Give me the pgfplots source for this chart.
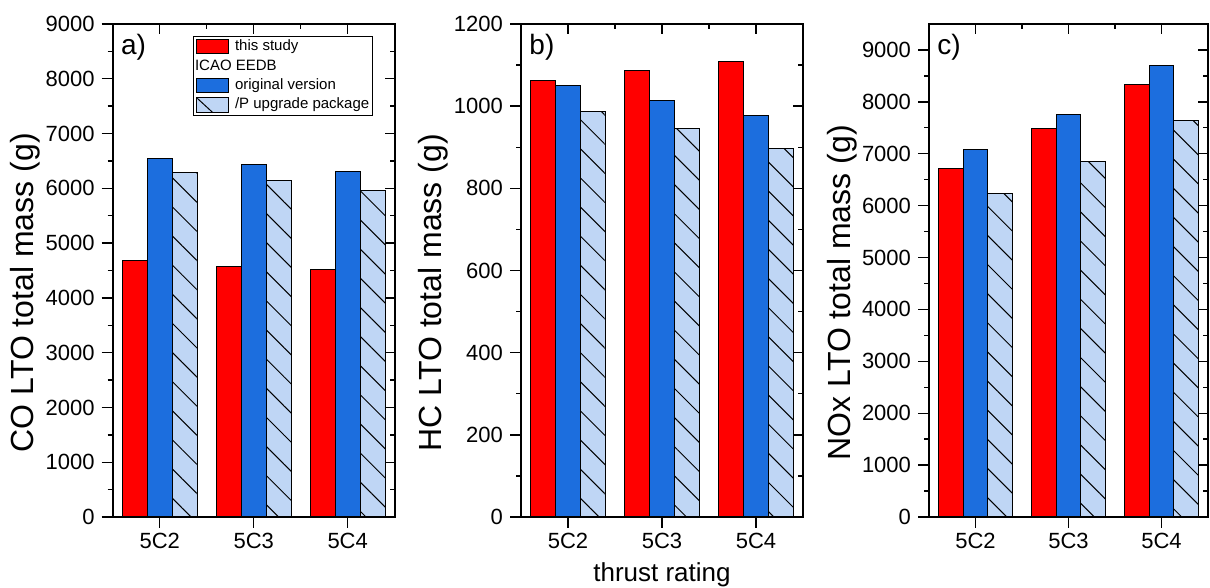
\documentclass[border=0pt]{standalone}
\usepackage{fontspec}
\setmainfont{Liberation Sans}
\usepackage{pgfplots}
\pgfplotsset{compat=1.18}
\usetikzlibrary{patterns.meta}
\definecolor{cred}{RGB}{255,0,0}
\definecolor{cblue}{RGB}{28,110,222}
\definecolor{clight}{RGB}{191,214,245}

\tikzset{plab/.style={anchor=west, font=\fontsize{14}{16}\selectfont}}
\pgfplotsset{
 base/.style={scale only axis, height=246.5pt, xmin=-0.5, xmax=2.5, ymin=0,
   anchor=south west, axis line style={line width=0.9pt},
   every tick/.style={black, line width=0.7pt},
   /pgf/number format/assume math mode=true, /pgf/number format/1000 sep={},
   clip=false},
 mainax/.style={base, xtick={0,1,2}, xticklabels={5C2,5C3,5C4},
   xtick pos=bottom, ytick pos=left, tick align=outside,
   major tick length=5.5pt, minor tick length=2.5pt, minor y tick num=1,
   ticklabel style={font=\fontsize{11}{12}\selectfont},
   xticklabel style={yshift=1pt},
   ylabel style={at={(axis description cs:-0.31,0.455)}, anchor=center, font=\fontsize{16}{18}\selectfont},
   ybar, bar width=0.267},
 overax/.style={base, xtick={0,1,2}, minor xtick={0.5,1.5}, xticklabels={}, yticklabels={},
   xtick pos=top, ytick pos=right, tick align=inside,
   major tick length=5pt, minor tick length=2.5pt, minor y tick num=1},
 redbar/.style={fill=cred, draw=black, line width=0.5pt, bar shift=-0.267},
 bluebar/.style={fill=cblue, draw=black, line width=0.5pt, bar shift=0},
 hatchbar/.style={fill=clight, draw=black, line width=0.5pt, bar shift=0.267,
   postaction={pattern={Lines[angle=-45,distance=10.3pt,line width=0.5pt]}, pattern color=black}},
}

\begin{document}
\begin{tikzpicture}
\useasboundingbox (0,0) rectangle (605pt,294pt);

% ---- panel a
\begin{axis}[mainax, at={(56.35pt,35.5pt)}, width=141pt, ymax=9000, ytick={0,1000,...,9000},
  ylabel={CO LTO total mass (g)},
  legend style={at={(0.923,0.976)}, anchor=north east, font=\fontsize{7.5}{8}\selectfont,
    draw=black, line width=0.5pt, inner sep=1pt, row sep=1.3pt, column sep=2.5pt,
    nodes={inner sep=0.6pt, text height=5.6pt, text depth=1.6pt, anchor=west}},
  legend cell align=left]
\addplot[redbar, forget plot] coordinates {(0,4680) (1,4580) (2,4520)};
\addplot[bluebar, forget plot] coordinates {(0,6550) (1,6440) (2,6310)};
\addplot[hatchbar, forget plot] coordinates {(0,6280) (1,6150) (2,5960)};
\addlegendimage{legend image code/.code={\draw[fill=cred, draw=black, line width=0.5pt] (0pt,-3.6pt) rectangle (16pt,3.6pt);}}
\addlegendentry{this study}
\addlegendimage{empty legend}
\addlegendentry{\hspace{-20pt}ICAO EEDB}
\addlegendimage{legend image code/.code={\draw[fill=cblue, draw=black, line width=0.5pt] (0pt,-3.6pt) rectangle (16pt,3.6pt);}}
\addlegendentry{original version}
\addlegendimage{legend image code/.code={\draw[fill=clight, draw=black, line width=0.5pt] (0pt,-3.6pt) rectangle (16pt,3.6pt); \draw[line width=0.5pt] (0.5pt,3.3pt) -- (8pt,-3.6pt);}}
\addlegendentry{/P upgrade package}
\node[plab] at (rel axis cs:0.005,0.952) {a)};
\end{axis}
\begin{axis}[overax, at={(56.35pt,35.5pt)}, width=141pt, ymax=9000, ytick={0,1000,...,9000}]
\end{axis}

% ---- panel b
\begin{axis}[mainax, at={(260.5pt,35.5pt)}, width=141pt, ymax=1200, ytick={0,200,...,1200},
  ylabel={HC LTO total mass (g)}, xlabel={thrust rating},
  xlabel style={at={(axis description cs:0.5,-0.118)}, anchor=center, font=\fontsize{13}{15}\selectfont}]
\addplot[redbar] coordinates {(0,1063) (1,1086) (2,1109)};
\addplot[bluebar] coordinates {(0,1051) (1,1014) (2,977)};
\addplot[hatchbar] coordinates {(0,988) (1,945) (2,898)};
\node[plab] at (rel axis cs:0.005,0.952) {b)};
\end{axis}
\begin{axis}[overax, at={(260.5pt,35.5pt)}, width=141pt, ymax=1200, ytick={0,200,...,1200}]
\end{axis}

% ---- panel c
\begin{axis}[mainax, at={(464.5pt,35.5pt)}, width=139.5pt, ymax=9500, ytick={0,1000,...,9000},
  ylabel={NOx LTO total mass (g)}]
\addplot[redbar] coordinates {(0,6710) (1,7480) (2,8330)};
\addplot[bluebar] coordinates {(0,7090) (1,7760) (2,8700)};
\addplot[hatchbar] coordinates {(0,6230) (1,6860) (2,7640)};
\node[plab] at (rel axis cs:0.005,0.952) {c)};
\end{axis}
\begin{axis}[overax, at={(464.5pt,35.5pt)}, width=139.5pt, ymax=9500, ytick={0,1000,...,9000}]
\end{axis}
\end{tikzpicture}
\end{document}
